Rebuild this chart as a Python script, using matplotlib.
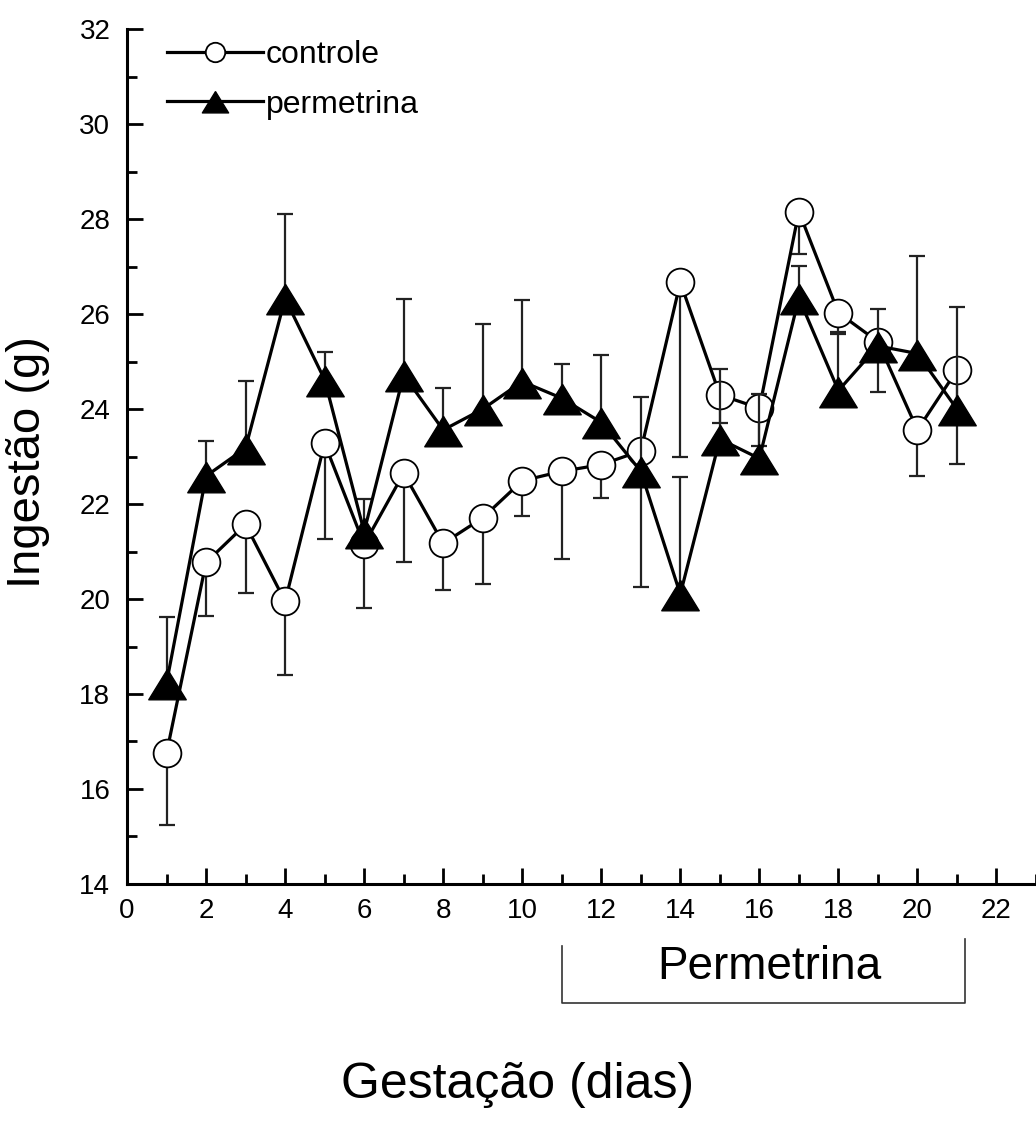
import matplotlib
matplotlib.use("Agg")
import matplotlib.pyplot as plt
import numpy as np
from matplotlib.ticker import MultipleLocator

plt.rcParams["font.family"] = ["Liberation Sans", "DejaVu Sans"]

dias = np.arange(1, 22)

controle = [16.75, 20.77, 21.57, 19.95, 23.28, 21.15, 22.65, 21.17, 21.71, 22.49,
            22.69, 22.83, 23.12, 26.67, 24.30, 24.02, 28.16, 26.03, 25.42, 23.56, 24.82]
controle_ep = [1.50, 1.12, 1.45, 1.56, 2.02, 1.33, 1.88, 0.97, 1.40, 0.74,
               1.85, 0.71, 2.86, 3.67, 0.60, 0.80, 0.89, 0.40, 1.05, 0.96, 1.98]

permetrina = [18.23, 22.59, 23.18, 26.33, 24.62, 21.42, 24.72, 23.56, 24.00, 24.58,
              24.23, 23.72, 22.69, 20.10, 23.37, 22.96, 26.34, 24.39, 25.33, 25.17, 24.00]
permetrina_ep = [1.40, 0.74, 1.42, 1.77, 0.58, 0.68, 1.59, 0.88, 1.79, 1.71,
                 0.73, 1.42, 1.57, 2.46, 1.47, 1.35, 0.68, 1.20, 0.78, 2.05, 2.15]

periodo = (11, 21.2)

fig = plt.figure(figsize=(10.36, 11.26), dpi=100)
ax = fig.add_axes([0.1226, 0.215, 0.8774, 0.759])

c = np.array(controle)
ce = np.array(controle_ep)
p = np.array(permetrina)
pe = np.array(permetrina_ep)

# slightly flattened triangle, like the original
tri = [(0, 0.87), (-1.15, -1), (1.15, -1), (0, 0.87)]

# controle: error bars only downward
ax.vlines(dias, c - ce, c, color="#222222", lw=1.6, zorder=1)
ax.plot(dias, c - ce, ls="none", marker="_", ms=12, mew=1.6, color="#222222", zorder=1)
ax.plot(dias, c, "-o", color="black", lw=2.3, ms=20, mfc="white", mec="black",
        mew=1.3, zorder=2, label="controle")

# permetrina: error bars only upward
ax.vlines(dias, p, p + pe, color="#222222", lw=1.6, zorder=3)
ax.plot(dias, p + pe, ls="none", marker="_", ms=12, mew=1.6, color="#222222", zorder=3)
ax.plot(dias, p, "-", marker=tri, color="black", lw=2.3, ms=27, mfc="black", mec="black",
        zorder=4, label="permetrina")

ax.set_xlim(0, 23)
ax.set_ylim(14, 32)
ax.xaxis.set_major_locator(MultipleLocator(2))
ax.xaxis.set_minor_locator(MultipleLocator(1))
ax.yaxis.set_major_locator(MultipleLocator(2))
ax.yaxis.set_minor_locator(MultipleLocator(1))
ax.set_xticks(np.arange(0, 23, 2))
ax.tick_params(which="major", direction="in", length=11.5, width=2, labelsize=20)
ax.tick_params(which="minor", direction="in", length=7, width=2)
ax.tick_params(axis="x", pad=10)
ax.tick_params(axis="y", pad=12)
for s in ["top", "right"]:
    ax.spines[s].set_visible(False)
for s in ["left", "bottom"]:
    ax.spines[s].set_linewidth(2.2)

leg = ax.legend(loc="upper left", bbox_to_anchor=(0.03, 1.002), frameon=False,
                fontsize=23, handlelength=3.0, handletextpad=0.1,
                labelspacing=0.6, markerscale=0.7, borderaxespad=0)

# Permetrina exposure bracket
ax.plot([periodo[0], periodo[0], periodo[1], periodo[1]], [12.7, 11.5, 11.5, 12.85],
        color="#333333", lw=1.2, clip_on=False)
ax.text(sum(periodo) / 2 + 0.15, 12.25, "Permetrina", fontsize=33, ha="center", va="center")

fig.text(0.50, 0.036, "Gestação (dias)", fontsize=36, ha="center", va="center")
fig.text(0.027, 0.59, "Ingestão (g)", fontsize=34, rotation=90, ha="center", va="center")

plt.savefig("out.png", dpi=100)
